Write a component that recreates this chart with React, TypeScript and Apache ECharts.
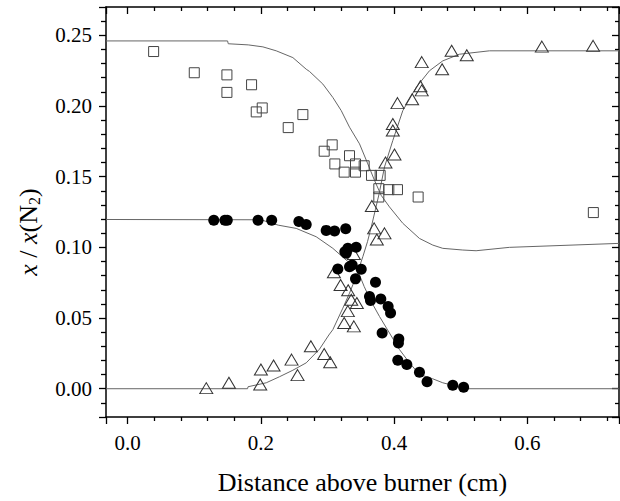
import React, { useEffect, useRef } from "react";
import * as echarts from "echarts";

// ---- axis ranges ----
const X_MIN = -0.0325;
const X_MAX = 0.7375;
const Y_MIN = -0.02;
const Y_MAX = 0.27;

// ---- measured data: open squares ----
const squareX = [0.039, 0.1, 0.149, 0.149, 0.186, 0.193, 0.202, 0.241, 0.263, 0.295, 0.307, 0.311, 0.325, 0.333, 0.342, 0.342, 0.355, 0.366, 0.379, 0.377, 0.377, 0.392, 0.405, 0.436, 0.699];
const squareY = [0.2385, 0.2235, 0.222, 0.2096, 0.215, 0.1958, 0.1986, 0.1847, 0.1939, 0.168, 0.1725, 0.159, 0.1532, 0.1648, 0.159, 0.1532, 0.1577, 0.1509, 0.1509, 0.1415, 0.1356, 0.1408, 0.1408, 0.1356, 0.1246];

// ---- measured data: open triangles ----
const triangleX = [0.118, 0.152, 0.2, 0.199, 0.219, 0.246, 0.255, 0.275, 0.295, 0.304, 0.325, 0.3395, 0.3305, 0.3356, 0.344, 0.331, 0.3196, 0.3096, 0.3395, 0.374, 0.3855, 0.37, 0.3665, 0.387, 0.4005, 0.398, 0.398, 0.405, 0.427, 0.4394, 0.4414, 0.4414, 0.472, 0.4863, 0.509, 0.6217, 0.6986];
const triangleY = [0.0004, 0.0042, 0.0136, 0.003, 0.0164, 0.0206, 0.0096, 0.03, 0.0246, 0.0187, 0.0465, 0.0441, 0.0549, 0.0629, 0.0606, 0.0697, 0.0734, 0.0824, 0.0953, 0.1056, 0.1099, 0.1134, 0.1293, 0.16, 0.1657, 0.1826, 0.1873, 0.202, 0.2047, 0.214, 0.211, 0.231, 0.226, 0.239, 0.2359, 0.242, 0.2425];

// ---- measured data: filled circles ----
const circleX = [0.1293, 0.146, 0.1495, 0.1957, 0.2162, 0.257, 0.268, 0.298, 0.3106, 0.3273, 0.3305, 0.343, 0.328, 0.326, 0.337, 0.3506, 0.3155, 0.333, 0.342, 0.372, 0.363, 0.3645, 0.38, 0.391, 0.3946, 0.382, 0.407, 0.4064, 0.4055, 0.419, 0.438, 0.4494, 0.488, 0.5043];
const circleY = [0.1192, 0.1192, 0.1192, 0.1192, 0.1192, 0.1183, 0.1162, 0.112, 0.1115, 0.1131, 0.0993, 0.1, 0.0958, 0.0969, 0.0875, 0.0845, 0.0847, 0.0863, 0.0777, 0.0753, 0.0652, 0.0624, 0.0634, 0.0582, 0.0535, 0.0394, 0.0352, 0.0324, 0.0201, 0.0171, 0.0117, 0.0049, 0.0025, 0.0011];

// ---- model curves ----
const squareFitX = [-0.0325, 0.15, 0.151, 0.181, 0.203, 0.223, 0.248, 0.268, 0.273, 0.293, 0.308, 0.3206, 0.333, 0.348, 0.3605, 0.3705, 0.3805, 0.393, 0.413, 0.438, 0.458, 0.473, 0.503, 0.523, 0.573, 0.7375];
const squareFitY = [0.246, 0.246, 0.244, 0.2432, 0.2418, 0.239, 0.2342, 0.226, 0.2244, 0.2155, 0.206, 0.1967, 0.185, 0.1732, 0.159, 0.1474, 0.1368, 0.1286, 0.117, 0.1063, 0.1016, 0.0993, 0.0981, 0.0976, 0.1, 0.1028];

const triangleFitX = [-0.0325, 0.18, 0.1807, 0.208, 0.228, 0.248, 0.268, 0.288, 0.302, 0.308, 0.323, 0.333, 0.343, 0.353, 0.36, 0.366, 0.372, 0.3775, 0.3855, 0.398, 0.413, 0.433, 0.453, 0.473, 0.498, 0.543, 0.7375];
const triangleFitY = [0, 0, 0.0014, 0.0042, 0.0085, 0.0131, 0.0183, 0.028, 0.038, 0.0418, 0.057, 0.0676, 0.0793, 0.0934, 0.104, 0.115, 0.127, 0.138, 0.1568, 0.1756, 0.1967, 0.2131, 0.2249, 0.2319, 0.2366, 0.239, 0.239];

const circleFitX = [-0.0325, 0.2, 0.226, 0.253, 0.283, 0.308, 0.328, 0.345, 0.355, 0.3655, 0.378, 0.393, 0.408, 0.423, 0.438, 0.458, 0.473, 0.493, 0.508, 0.7375];
const circleFitY = [0.1197, 0.1195, 0.1157, 0.1134, 0.1075, 0.0993, 0.091, 0.084, 0.0723, 0.0617, 0.0511, 0.0394, 0.0277, 0.0183, 0.0101, 0.007, 0.0042, 0.0018, 0, 0];

const X_TITLE = "Distance above burner (cm)";

const zip = (xs: number[], ys: number[]) => xs.map((x, i) => [x, ys[i]]);

const FONT = "Liberation Serif";

export default function App() {
  const ref = useRef<HTMLDivElement>(null);

  useEffect(() => {
    if (!ref.current) return;
    const chart = echarts.init(ref.current, null, { renderer: "svg" });

    const axisLine = { show: true, onZero: false, lineStyle: { color: "#000", width: 1.5 } };
    const tickStyle = { color: "#000", width: 1.3 };

    const lineSeries = (xs: number[], ys: number[]) => ({
      type: "line",
      data: zip(xs, ys),
      symbol: "none",
      showSymbol: false,
      smooth: false,
      lineStyle: { color: "#666", width: 1 },
      xAxisIndex: 0,
      yAxisIndex: 0,
      z: 2,
      silent: true,
    });

    chart.setOption({
      animation: false,
      backgroundColor: "#fff",
      textStyle: { fontFamily: FONT },
      grid: { left: 106, right: 1, top: 7, bottom: 84, outerBoundsMode: "none", containLabel: false },
      xAxis: [
        {
          type: "value",
          min: X_MIN,
          max: X_MAX,
          position: "bottom",
          splitNumber: 4,
          axisLine,
          axisTick: { show: true, inside: false, length: 7, lineStyle: tickStyle },
          minorTick: { show: true, splitNumber: 5, length: 4, lineStyle: tickStyle },
          splitLine: { show: false },
          axisLabel: {
            showMinLabel: false,
            showMaxLabel: false,
            formatter: (v: number) => v.toFixed(1),
            fontFamily: FONT,
            fontSize: 21,
            color: "#000",
            margin: 15,
          },
          name: X_TITLE,
          nameLocation: "middle",
          nameGap: 52,
          nameTextStyle: { fontFamily: FONT, fontSize: 26, color: "#000" },
        },
        {
          type: "value",
          min: X_MIN,
          max: X_MAX,
          position: "top",
          splitNumber: 4,
          axisLine,
          axisTick: { show: true, inside: true, length: 7, lineStyle: tickStyle },
          minorTick: { show: true, splitNumber: 5, length: 4, lineStyle: tickStyle },
          splitLine: { show: false },
          axisLabel: { show: false },
        },
      ],
      yAxis: [
        {
          type: "value",
          min: Y_MIN,
          max: Y_MAX,
          position: "left",
          splitNumber: 6,
          axisLine,
          axisTick: { show: true, inside: false, length: 7, lineStyle: tickStyle },
          minorTick: { show: true, splitNumber: 5, length: 5, lineStyle: tickStyle },
          splitLine: { show: false },
          axisLabel: {
            showMinLabel: false,
            showMaxLabel: false,
            formatter: (v: number) => v.toFixed(2),
            fontFamily: FONT,
            fontSize: 21,
            color: "#000",
            margin: 14,
          },
        },
        {
          type: "value",
          min: Y_MIN,
          max: Y_MAX,
          position: "right",
          splitNumber: 6,
          axisLine,
          axisTick: { show: true, inside: true, length: 7, lineStyle: tickStyle },
          minorTick: { show: true, splitNumber: 5, length: 4, lineStyle: tickStyle },
          splitLine: { show: false },
          axisLabel: { show: false },
        },
      ],
      graphic: [
        {
          type: "text",
          x: 28,
          y: 232,
          rotation: Math.PI / 2,
          style: {
            text: "{i|x} / {i|x}(N{s|2})",
            fontFamily: FONT,
            fontSize: 26,
            fill: "#000",
            align: "center",
            verticalAlign: "middle",
            textAlign: "center",
            textVerticalAlign: "middle",
            rich: {
              i: { fontFamily: FONT, fontSize: 26, fontStyle: "italic", fill: "#000" },
              s: { fontFamily: FONT, fontSize: 16, fill: "#000", verticalAlign: "bottom", padding: [12, 0, 0, 0] },
            },
          },
        },
      ],
      series: [
        lineSeries(squareFitX, squareFitY),
        lineSeries(triangleFitX, triangleFitY),
        lineSeries(circleFitX, circleFitY),
        {
          type: "scatter",
          data: zip(squareX, squareY),
          symbol: "rect",
          symbolSize: 10,
          itemStyle: { color: "rgba(255,255,255,0)", borderColor: "#444", borderWidth: 1, opacity: 1 },
          z: 3,
        },
        {
          type: "scatter",
          data: zip(triangleX, triangleY),
          symbol: "triangle",
          symbolSize: [13, 11],
          itemStyle: { color: "rgba(255,255,255,0)", borderColor: "#333", borderWidth: 1, opacity: 1 },
          z: 3,
        },
        {
          type: "scatter",
          data: zip(circleX, circleY),
          symbol: "circle",
          symbolSize: 11,
          itemStyle: { color: "#000", opacity: 1 },
          z: 4,
        },
      ],
    });

    return () => chart.dispose();
  }, []);

  return (
    <div
      ref={ref}
      style={{ position: "fixed", left: 0, top: 0, width: 620, height: 501, background: "#fff" }}
    />
  );
}
